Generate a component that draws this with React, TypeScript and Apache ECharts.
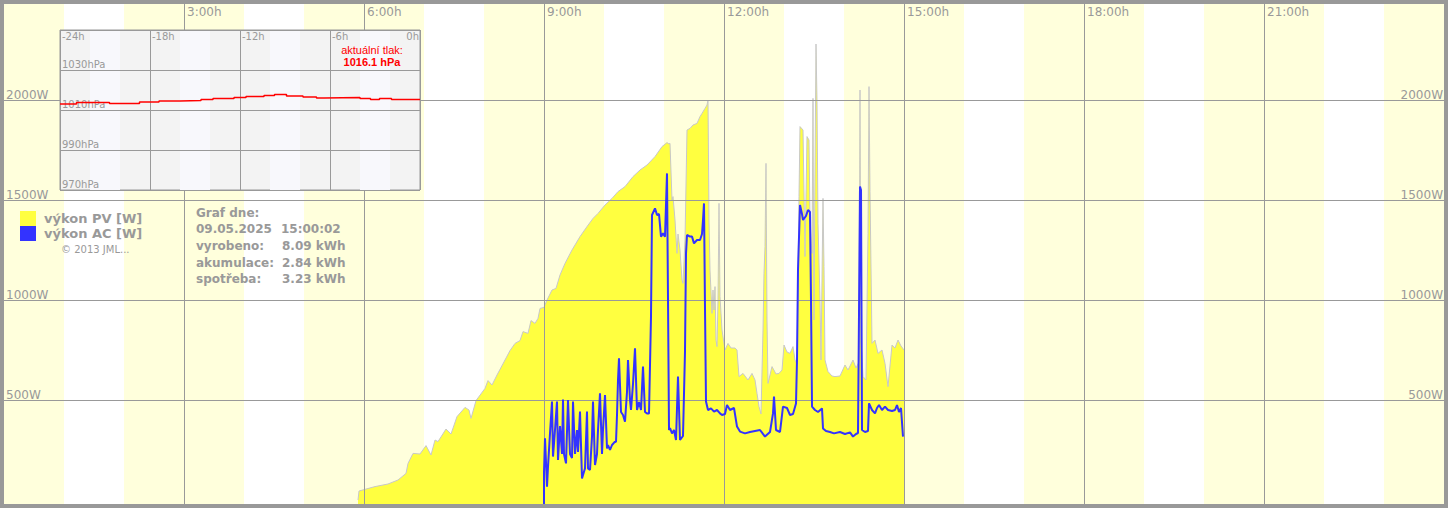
import React, { useEffect, useRef } from "react";
import * as echarts from "echarts";

// ---- data ----
const hourTicks = [180, 360, 540, 720, 900, 1080, 1260];
const powerTicks = [500, 1000, 1500, 2000];
const dayBands: [number, number][] = [
  [0, 60], [120, 240], [300, 420], [480, 600], [660, 780], [840, 960], [1020, 1140], [1200, 1320], [1380, 1440],
];

// [minute of day, W]
const pvPower: [number, number][] = [
  [354, 0], [355, 45], [371, 67], [384, 80], [394, 100], [402, 133], [404, 183], [409, 233], [416, 230], [422, 272],
  [427, 225], [431, 300], [434, 292], [442, 355], [447, 330], [453, 417], [461, 463], [465, 450], [467, 408], [472, 497],
  [481, 558], [484, 597], [488, 575], [493, 625], [501, 700], [506, 747], [511, 783], [516, 797], [519, 842], [524, 833],
  [527, 897], [531, 883], [534, 908], [536, 958], [540, 963], [543, 1000], [548, 1050], [552, 1058], [556, 1125], [561, 1183],
  [568, 1250], [576, 1317], [583, 1367], [589, 1408], [594, 1433], [601, 1475], [608, 1508], [614, 1542], [621, 1567], [629, 1617],
  [636, 1650], [643, 1675], [651, 1717], [658, 1767], [663, 1787], [665, 1780], [666, 1783], [668, 1500], [669, 1517], [671, 1400],
  [673, 1233], [674, 1330], [676, 1250], [678, 1100], [679, 1083], [681, 1300], [683, 1850], [686, 1858], [689, 1875], [693, 1883],
  [696, 1917], [698, 1933], [701, 1958], [703, 1975], [704, 2000], [705, 1400], [706, 1150], [708, 933], [709, 1050], [710, 950],
  [711, 1067], [712, 800], [713, 767], [714, 1000], [715, 1483], [716, 1017], [718, 850], [721, 750], [724, 783], [727, 760],
  [731, 760], [733, 750], [735, 617], [739, 633], [744, 600], [748, 633], [751, 600], [753, 533], [755, 467], [757, 430],
  [759, 850], [760, 1133], [761, 1267], [762, 1683], [763, 900], [764, 583], [768, 667], [772, 630], [775, 633], [778, 650],
  [780, 775], [783, 740], [786, 733], [789, 767], [791, 700], [793, 680], [794, 1100], [795, 1517], [796, 1867], [799, 1850],
  [801, 1217], [803, 1817], [805, 1800], [806, 1400], [808, 1233], [809, 2008], [810, 900], [811, 1650], [812, 2280], [813, 1992],
  [814, 1383], [816, 1000], [817, 700], [819, 1508], [820, 1167], [821, 700], [824, 642], [828, 620], [831, 617], [836, 620],
  [841, 675], [844, 650], [849, 700], [852, 660], [855, 690], [856, 2050], [857, 800], [859, 617], [862, 600], [864, 1333],
  [865, 2067], [866, 1542], [868, 783], [871, 800], [874, 733], [878, 750], [881, 683], [884, 567], [888, 775], [891, 760],
  [894, 800], [897, 770], [900, 750],
];

const acPower: [number, number][] = [
  [540, -20], [540, 140], [541, 308], [543, 67], [544, 167], [546, 333], [548, 492], [549, 217], [551, 350], [553, 492],
  [554, 200], [556, 370], [558, 230], [559, 503], [560, 230], [562, 183], [564, 500], [566, 230], [568, 210], [569, 492],
  [571, 230], [573, 350], [574, 240], [576, 442], [578, 108], [579, 125], [581, 158], [583, 442], [584, 158], [586, 150],
  [588, 317], [589, 492], [591, 175], [593, 230], [594, 350], [596, 533], [598, 230], [599, 350], [601, 525], [603, 258],
  [604, 275], [606, 250], [608, 275], [611, 292], [612, 290], [613, 425], [614, 600], [615, 708], [617, 440], [619, 425],
  [621, 392], [623, 540], [624, 700], [626, 500], [627, 450], [629, 580], [631, 758], [633, 450], [635, 490], [637, 450],
  [639, 667], [641, 440], [643, 433], [645, 433], [647, 917], [648, 1425], [651, 1458], [653, 1425], [655, 1430], [657, 1317],
  [659, 1333], [661, 1317], [662, 1475], [663, 1633], [664, 1008], [665, 350], [666, 360], [668, 333], [670, 350], [672, 300],
  [674, 617], [676, 300], [679, 320], [681, 742], [682, 1233], [683, 1325], [686, 1317], [688, 1317], [690, 1283], [693, 1300],
  [696, 1300], [698, 1330], [699, 1400], [700, 1483], [701, 958], [702, 492], [704, 450], [707, 458], [710, 442], [713, 450],
  [716, 433], [718, 425], [721, 430], [723, 475], [726, 450], [730, 460], [733, 367], [736, 342], [741, 333], [746, 340],
  [751, 345], [756, 350], [761, 317], [766, 340], [769, 433], [770, 517], [772, 350], [776, 340], [779, 467], [783, 460],
  [786, 425], [789, 430], [792, 483], [793, 700], [794, 1150], [796, 1475], [798, 1430], [799, 1400], [802, 1420], [804, 1450],
  [806, 1440], [807, 1000], [808, 467], [811, 450], [814, 440], [818, 458], [819, 358], [822, 345], [826, 340], [830, 333],
  [836, 340], [841, 330], [846, 338], [849, 317], [852, 330], [854, 335], [855, 933], [856, 1567], [857, 1550], [858, 350],
  [861, 340], [864, 345], [865, 483], [868, 450], [871, 433], [873, 460], [875, 475], [878, 450], [881, 467], [884, 450],
  [888, 445], [891, 450], [893, 475], [895, 440], [897, 460], [899, 317],
];

// inset: [hours relative to now, hPa]
const pressure: [number, number][] = [
  [-24, 1013], [-22.9, 1013.7], [-20.7, 1013.3], [-18.7, 1014], [-17.4, 1014.5], [-16, 1014.8], [-14.6, 1015.3],
  [-13.8, 1015.8], [-12.4, 1016.3], [-11.6, 1016.8], [-10.4, 1017.3], [-9.7, 1017.8], [-8.9, 1017], [-7.8, 1016.5],
  [-6.9, 1016], [-6.4, 1016.3], [-4, 1015.8], [-3.3, 1015.3], [-2.7, 1015.8], [-1.9, 1015.3], [0, 1015.3],
];
const pressureBands: [number, number][] = [[-22, -20], [-16, -14], [-10, -8], [-4, -2]];
const pressureTicks = [970, 990, 1010, 1030];
const currentPressure = "1016.1 hPa";

const seriesNames = ["výkon PV [W]", "výkon AC [W]"];
const dateLabel = "09.05.2025";
const timeLabel = "15:00:02";
const summaryLabels = ["vyrobeno:", "akumulace:", "spotřeba:"];
const summaryValues = ["8.09 kWh", "2.84 kWh", "3.23 kWh"];

const GRAY = "#999999";
const FONT = "DejaVu Sans";

export default function App() {
  const ref = useRef<HTMLDivElement>(null);
  useEffect(() => {
    document.body.style.margin = "0";
    if (!ref.current) return;
    const chart = echarts.init(ref.current, undefined, { renderer: "svg" });

    const summaryGraphics: any[] = [];
    const boldText = (text: string, x: number, y: number) => ({
      type: "text",
      x,
      y,
      z: 20,
      silent: true,
      style: { text, fill: GRAY, font: `bold 12px "${FONT}"`, align: "left", verticalAlign: "middle" },
    });
    summaryGraphics.push(boldText("Graf dne:", 196, 212.7));
    summaryGraphics.push(boldText(dateLabel, 196, 229.3));
    summaryGraphics.push(boldText(timeLabel, 281, 229.3));
    summaryLabels.forEach((l, i) => {
      summaryGraphics.push(boldText(l, 196, 246 + i * 16.7));
      summaryGraphics.push(boldText(summaryValues[i], 282, 246 + i * 16.7));
    });

    const option: any = {
      animation: false,
      backgroundColor: GRAY,
      grid: [
        { left: 4, top: 4, width: 1440, height: 500, show: true, backgroundColor: "#ffffff", borderWidth: 0, z: 0 },
        { left: 60, top: 30, width: 360, height: 160, show: true, backgroundColor: "#F3F3F3", borderColor: GRAY, borderWidth: 1, z: 10 },
      ],
      legend: {
        left: 20,
        top: 211,
        padding: 0,
        orient: "vertical",
        itemWidth: 16,
        itemHeight: 15,
        itemGap: 0,
        icon: "rect",
        selectedMode: false,
        textStyle: { color: GRAY, fontFamily: FONT, fontWeight: "bold", fontSize: 13, lineHeight: 15, padding: [0, 0, 0, 3] },
        data: [
          { name: seriesNames[0], itemStyle: { color: "#FFFF40", borderWidth: 0, borderColor: "#FFFF40" } },
          { name: seriesNames[1], itemStyle: { color: "#3333FF", borderWidth: 0, borderColor: "#3333FF" } },
        ],
      },
      xAxis: [
        {
          type: "value",
          gridIndex: 0,
          min: 0,
          max: 1440,
          position: "top",
          z: 3,
          axisLine: { show: false },
          axisTick: { show: false, customValues: hourTicks },
          axisLabel: {
            show: true,
            inside: true,
            customValues: hourTicks,
            formatter: (v: number) => `${v / 60}:00h`,
            color: GRAY,
            fontFamily: FONT,
            fontSize: 12,
            align: "left",
            verticalAlign: "middle",
            margin: 7.5,
            padding: [0, 0, 0, 3],
          },
          splitLine: { show: true, lineStyle: { color: GRAY, width: 1 } },
        },
        {
          type: "value",
          gridIndex: 1,
          min: -24,
          max: 0,
          interval: 6,
          position: "top",
          z: 12,
          axisLine: { show: false },
          axisTick: { show: false },
          axisLabel: {
            show: true,
            inside: true,
            formatter: (v: number) => `${v}h`,
            color: GRAY,
            fontFamily: FONT,
            fontSize: 10,
            align: "left",
            alignMaxLabel: "right",
            verticalAlign: "middle",
            margin: 6,
            padding: [0, 1, 0, 2],
          },
          splitLine: { show: true, lineStyle: { color: GRAY, width: 1 } },
        },
      ],
      yAxis: [
        {
          type: "value",
          gridIndex: 0,
          min: -20,
          max: 2480,
          position: "left",
          z: 3,
          axisLine: { show: false },
          axisTick: { show: false, customValues: powerTicks },
          axisLabel: {
            show: true,
            inside: true,
            customValues: powerTicks,
            formatter: (v: number) => `${v}W`,
            color: GRAY,
            fontFamily: FONT,
            fontSize: 12,
            lineHeight: 10,
            align: "left",
            verticalAlign: "bottom",
            margin: 2,
          },
          splitLine: { show: true, lineStyle: { color: GRAY, width: 1 } },
        },
        {
          type: "value",
          gridIndex: 0,
          min: -20,
          max: 2480,
          position: "right",
          z: 3,
          axisLine: { show: false },
          axisTick: { show: false, customValues: powerTicks },
          axisLabel: {
            show: true,
            inside: true,
            customValues: powerTicks,
            formatter: (v: number) => `${v}W`,
            color: GRAY,
            fontFamily: FONT,
            fontSize: 12,
            lineHeight: 10,
            align: "right",
            verticalAlign: "bottom",
            margin: 1,
          },
          splitLine: { show: false },
        },
        {
          type: "value",
          gridIndex: 1,
          min: 970,
          max: 1050,
          interval: 20,
          z: 12,
          axisLine: { show: false },
          axisTick: { show: false },
          axisLabel: {
            show: true,
            inside: true,
            customValues: pressureTicks,
            formatter: (v: number) => `${v}hPa`,
            color: GRAY,
            fontFamily: FONT,
            fontSize: 10,
            lineHeight: 11,
            align: "left",
            verticalAlign: "bottom",
            margin: 2,
          },
          splitLine: { show: true, lineStyle: { color: GRAY, width: 1 } },
        },
      ],
      series: [
        {
          name: seriesNames[0],
          type: "line",
          xAxisIndex: 0,
          yAxisIndex: 0,
          data: pvPower,
          symbol: "none",
          showSymbol: false,
          z: 2,
          lineStyle: { color: "#C8C8C8", width: 1 },
          itemStyle: { color: "#FFFF40" },
          areaStyle: { color: "#FFFF40", opacity: 1, origin: "start" },
          markArea: {
            silent: true,
            z: 1,
            itemStyle: { color: "#FFFFDC" },
            label: { show: false },
            data: dayBands.map(([a, b]) => [{ xAxis: a }, { xAxis: b }]),
          },
        },
        {
          name: seriesNames[1],
          type: "line",
          xAxisIndex: 0,
          yAxisIndex: 0,
          data: acPower,
          symbol: "none",
          showSymbol: false,
          z: 4,
          lineStyle: { color: "#3333FF", width: 2 },
          itemStyle: { color: "#3333FF" },
        },
        {
          name: "tlak",
          type: "line",
          xAxisIndex: 1,
          yAxisIndex: 2,
          data: pressure,
          step: "end",
          symbol: "none",
          showSymbol: false,
          z: 13,
          lineStyle: { color: "#FF0000", width: 1.5 },
          itemStyle: { color: "#FF0000" },
          markArea: {
            silent: true,
            z: 11,
            itemStyle: { color: "#F8F8FC" },
            label: { show: false },
            data: pressureBands.map(([a, b]) => [{ xAxis: a }, { xAxis: b }]),
          },
        },
      ],
      graphic: [
        {
          type: "text",
          x: 372,
          y: 49.5,
          z: 20,
          silent: true,
          style: { text: "aktuální tlak:", fill: "#FF0000", font: '11px "Liberation Sans"', align: "center", verticalAlign: "middle" },
        },
        {
          type: "text",
          x: 372,
          y: 61.5,
          z: 20,
          silent: true,
          style: { text: currentPressure, fill: "#FF0000", font: 'bold 11px "Liberation Sans"', align: "center", verticalAlign: "middle" },
        },
        {
          type: "text",
          x: 61,
          y: 249,
          z: 20,
          silent: true,
          style: { text: "© 2013 JML...", fill: GRAY, font: `10px "${FONT}"`, align: "left", verticalAlign: "middle" },
        },
        ...summaryGraphics,
      ],
    };
    chart.setOption(option);
    return () => chart.dispose();
  }, []);
  return <div ref={ref} style={{ width: 1448, height: 508 }} />;
}
